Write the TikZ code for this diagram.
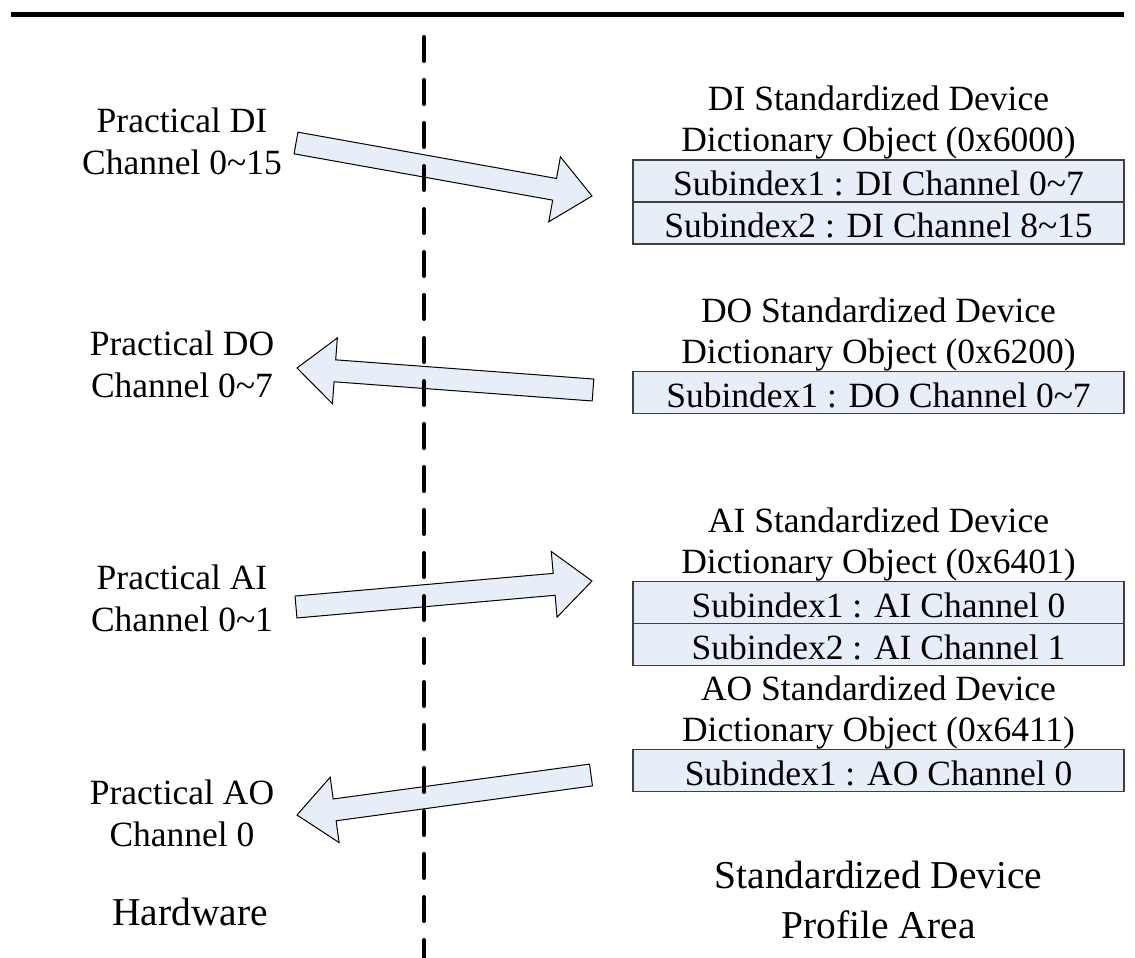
\documentclass[tikz,border=0pt]{standalone}
\usepackage{fontspec}
\setmainfont{Liberation Serif}
\usepackage{tikz}
\usetikzlibrary{calc,positioning}
\definecolor{boxfill}{RGB}{231,238,248}
\definecolor{boxline}{RGB}{64,64,64}
\tikzset{
  txt/.style={align=center, inner sep=0pt, font=\fontsize{17.75}{20.75}\selectfont},
  bigtxt/.style={align=center, inner sep=0pt, font=\fontsize{19.75}{25}\selectfont},
  subrow/.style={draw=boxline, line width=0.7pt, fill=boxfill, outer sep=0pt,
    minimum width=245.5pt, minimum height=21pt, inner sep=0pt,
    text height=14.5pt, text depth=0pt, font=\fontsize{17.75}{20.75}\selectfont},
  bigarrow/.style={draw=black, line width=0.5pt, fill=boxfill,
    to path={($(\tikztostart)!5.5pt!90:(\tikztotarget)$)
      -- ($(\tikztotarget)!19.78pt!-16.14:(\tikztostart)$)
      -- ($(\tikztotarget)!25.16pt!-40.97:(\tikztostart)$)
      -- (\tikztotarget)
      -- ($(\tikztotarget)!25.16pt!40.97:(\tikztostart)$)
      -- ($(\tikztotarget)!19.78pt!16.14:(\tikztostart)$)
      -- ($(\tikztostart)!5.5pt!-90:(\tikztotarget)$) -- cycle}},
  divider/.style={line width=2pt, line cap=round, dash pattern=on 12pt off 9.5pt}
}
\begin{document}
\begin{tikzpicture}[x=0.5pt, y=-0.5pt]
  \useasboundingbox (0,0) rectangle (1135,958);
  % hardware side
  \node[txt, anchor=south] (hwDI) at (182,175) {Practical DI\\Channel 0\textasciitilde15};
  \node[txt, anchor=south] (hwDO) at (182,398) {Practical DO\\Channel 0\textasciitilde7};
  \node[txt, anchor=south] (hwAI) at (182,632) {Practical AI\\Channel 0\textasciitilde1};
  \node[txt, anchor=south] (hwAO) at (182,847) {Practical AO\\Channel 0};
  \node[bigtxt] (hw) at (190,912) {Hardware};
  % profile side
  \node[txt, anchor=south] (hdDI) at (878.5,160) {DI Standardized Device\\Dictionary Object (0x6000)};
  \node[subrow] (di1) at (878.5,181) {Subindex1 : DI Channel 0\textasciitilde7};
  \node[subrow, below=0pt of di1] (di2) {Subindex2 : DI Channel 8\textasciitilde15};
  \node[txt, anchor=south] (hdDO) at (878.5,372) {DO Standardized Device\\Dictionary Object (0x6200)};
  \node[subrow] (do1) at (878.5,392.5) {Subindex1 : DO Channel 0\textasciitilde7};
  \node[txt, anchor=south] (hdAI) at (878.5,582) {AI Standardized Device\\Dictionary Object (0x6401)};
  \node[subrow] (ai1) at (878.5,602.5) {Subindex1 : AI Channel 0};
  \node[subrow, below=0pt of ai1] (ai2) {Subindex2 : AI Channel 1};
  \node[txt, anchor=south] (hdAO) at (878.5,750) {AO Standardized Device\\Dictionary Object (0x6411)};
  \node[subrow] (ao1) at (878.5,770.5) {Subindex1 : AO Channel 0};
  \node[bigtxt] (sdp) at (878.5,900) {Standardized Device\\Profile Area};
  % block arrows
  \coordinate (diTail) at (296,143);
  \coordinate (diTip) at (592,196);
  \coordinate (doTail) at (593,390);
  \coordinate (doTip) at (297,368);
  \coordinate (aiTail) at (296,607);
  \coordinate (aiTip) at (592,581);
  \coordinate (aoTail) at (591,775);
  \coordinate (aoTip) at (297,815);
  \draw[bigarrow] (diTail) to (diTip);
  \draw[bigarrow] (doTail) to (doTip);
  \draw[bigarrow] (aiTail) to (aiTip);
  \draw[bigarrow] (aoTail) to (aoTip);
  % rules
  \draw[line width=2.5pt] (11,14.5) -- (1124,14.5);
  \draw[divider] (424,37) -- (424,958);
\end{tikzpicture}
\end{document}
